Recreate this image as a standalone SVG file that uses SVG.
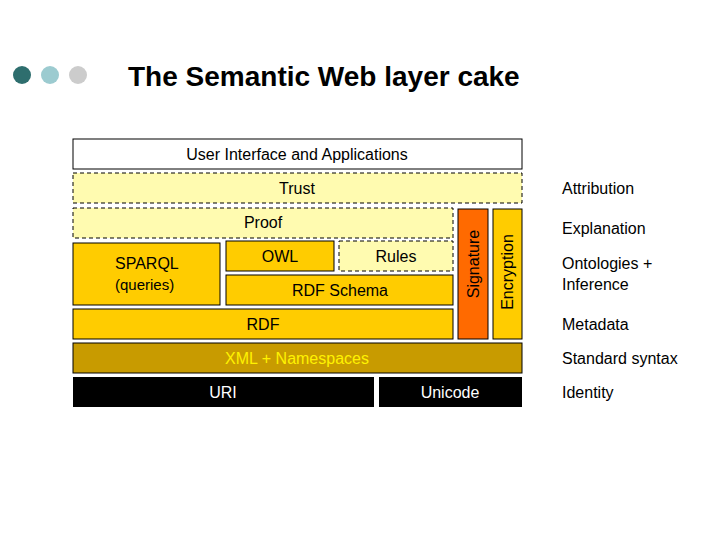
<svg xmlns="http://www.w3.org/2000/svg" width="720" height="540" viewBox="0 0 720 540">
<style>
text{font-family:"Liberation Sans","DejaVu Sans",sans-serif;font-size:16px;fill:#000}
.b{stroke:#000;stroke-width:1}
.d{stroke:#000;stroke-width:1;stroke-dasharray:4,3;fill:#FFFBB0}
.g{fill:#FFCC00}
.c{text-anchor:middle}
.r{font-size:15px}
</style>
<rect width="720" height="540" fill="#fff"/>
<g id="bullets">
<circle cx="22" cy="75" r="9" fill="#2E6E6E"/>
<circle cx="50" cy="75" r="9" fill="#9CCBD0"/>
<circle cx="78" cy="75" r="9" fill="#CCCCCC"/>
</g>
<text x="128" y="86" style="font-size:28px;font-weight:bold" fill="#000">The Semantic Web layer cake</text>
<g id="ui"><rect class="b" x="73" y="139" width="449" height="30" fill="#fff"/><text class="c" x="297" y="160">User Interface and Applications</text></g>
<g id="trust"><rect class="d" x="73" y="173" width="449" height="30"/><text class="c" x="297" y="194">Trust</text></g>
<g id="proof"><rect class="d" x="73" y="208" width="380" height="30"/><text class="c" x="263" y="228">Proof</text></g>
<g id="sparql"><rect class="b g" x="73" y="243" width="147" height="62"/><text x="115" y="269">SPARQL</text><text x="115" y="290" class="r">(queries)</text></g>
<g id="owl"><rect class="b g" x="226" y="241" width="108" height="30"/><text class="c" x="280" y="262">OWL</text></g>
<g id="rules"><rect class="d" x="339" y="241" width="114" height="30"/><text class="c" x="396" y="262">Rules</text></g>
<g id="rdfs"><rect class="b g" x="226" y="275" width="227" height="30"/><text class="c" x="340" y="296">RDF Schema</text></g>
<g id="rdf"><rect class="b g" x="73" y="309" width="380" height="30"/><text class="c" x="263" y="330">RDF</text></g>
<g id="signature"><rect class="b" x="458" y="209" width="30" height="130" fill="#FF6A00"/><text class="c" transform="translate(479,264) rotate(-90)">Signature</text></g>
<g id="encryption"><rect class="b g" x="493" y="209" width="29" height="130"/><text class="c" transform="translate(513,272) rotate(-90)">Encryption</text></g>
<g id="xml"><rect class="b" x="73" y="343" width="449" height="30" fill="#C89B00"/><text class="c" x="297" y="364" style="fill:#FFF200">XML + Namespaces</text></g>
<g id="uri"><rect x="73" y="377" width="301" height="30" fill="#000"/><text class="c" x="223" y="398" style="fill:#fff">URI</text></g>
<g id="unicode"><rect x="379" y="377" width="143" height="30" fill="#000"/><text class="c" x="450" y="398" style="fill:#fff">Unicode</text></g>
<g id="labels">
<text x="562" y="194">Attribution</text>
<text x="562" y="234">Explanation</text>
<text x="562" y="269">Ontologies +</text>
<text x="562" y="290">Inference</text>
<text x="562" y="330">Metadata</text>
<text x="562" y="364">Standard syntax</text>
<text x="562" y="398">Identity</text>
</g>
<g id="connectors"></g>
</svg>
